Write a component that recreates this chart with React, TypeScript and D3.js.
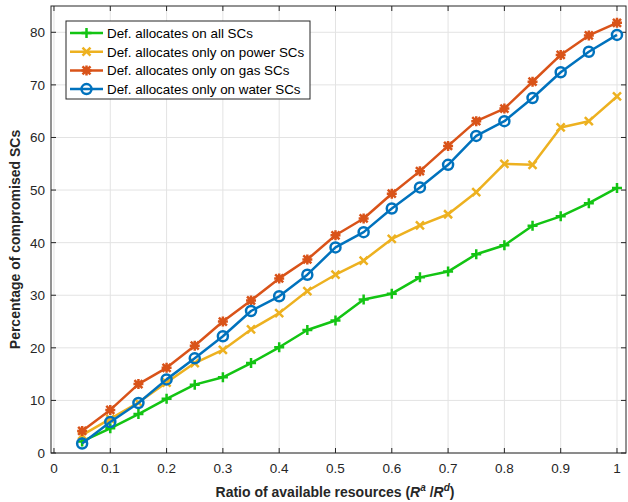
import React from 'react';
import * as d3 from 'd3';

const xValues = [0.05, 0.1, 0.15, 0.2, 0.25, 0.3, 0.35, 0.4, 0.45, 0.5, 0.55, 0.6, 0.65, 0.7, 0.75, 0.8, 0.85, 0.9, 0.95, 1];
const allSCs = [2.2, 4.7, 7.4, 10.3, 13.0, 14.4, 17.1, 20.1, 23.4, 25.2, 29.2, 30.3, 33.4, 34.5, 37.8, 39.5, 43.2, 45.0, 47.5, 50.4];
const powerSCs = [3.4, 6.5, 9.6, 13.4, 17.1, 19.6, 23.5, 26.6, 30.8, 33.9, 36.6, 40.7, 43.3, 45.4, 49.6, 55.0, 54.8, 61.9, 63.1, 67.8];
const gasSCs = [4.2, 8.2, 13.1, 16.2, 20.4, 25.0, 29.0, 33.2, 36.8, 41.4, 44.6, 49.3, 53.6, 58.4, 63.1, 65.5, 70.6, 75.7, 79.4, 81.8];
const waterSCs = [1.8, 5.9, 9.5, 14.0, 18.0, 22.2, 27.0, 29.8, 33.9, 39.1, 42.0, 46.5, 50.5, 54.8, 60.3, 63.1, 67.5, 72.4, 76.3, 79.5];

const xTicks = [0, 0.1, 0.2, 0.3, 0.4, 0.5, 0.6, 0.7, 0.8, 0.9, 1];
const yTicks = [0, 10, 20, 30, 40, 50, 60, 70, 80];

const seriesNames = [
  'Def. allocates on all SCs',
  'Def. allocates only on power SCs',
  'Def. allocates only on gas SCs',
  'Def. allocates only on water SCs',
];

type Marker = 'plus' | 'cross' | 'star' | 'circle';

const series: { name: string; values: number[]; color: string; marker: Marker }[] = [
  { name: seriesNames[0], values: allSCs, color: '#13c413', marker: 'plus' },
  { name: seriesNames[1], values: powerSCs, color: '#EDB120', marker: 'cross' },
  { name: seriesNames[2], values: gasSCs, color: '#D95319', marker: 'star' },
  { name: seriesNames[3], values: waterSCs, color: '#0072BD', marker: 'circle' },
];

const W = 628;
const H = 502;
const left = 51, right = 626, top = 6, bottom = 453;

const font = '"Liberation Sans", Arial, sans-serif';
const axisColor = '#262626';

function MarkerShape({ kind, x, y, color }: { kind: Marker; x: number; y: number; color: string }) {
  const s = 5;
  const d = 4;
  if (kind === 'plus') {
    return <path d={`M${x - s},${y}H${x + s}M${x},${y - s}V${y + s}`} stroke={color} strokeWidth={2.5} />;
  }
  if (kind === 'cross') {
    return <path d={`M${x - d},${y - d}L${x + d},${y + d}M${x - d},${y + d}L${x + d},${y - d}`} stroke={color} strokeWidth={2.5} />;
  }
  if (kind === 'star') {
    return (
      <g>
        <circle cx={x} cy={y} r={3} fill={color} />
        <path
          d={`M${x - s},${y}H${x + s}M${x},${y - s}V${y + s}M${x - d},${y - d}L${x + d},${y + d}M${x - d},${y + d}L${x + d},${y - d}`}
          stroke={color}
          strokeWidth={2.5}
        />
      </g>
    );
  }
  return <circle cx={x} cy={y} r={5} fill="none" stroke={color} strokeWidth={2.5} />;
}

export default function App() {
  const x = d3.scaleLinear().domain([-0.0053, 1.016]).range([left, right]);
  const y = d3.scaleLinear().domain([0, 85]).range([bottom, top]);
  const line = d3
    .line<number>()
    .x((_, i) => x(xValues[i]))
    .y((v) => y(v));

  const legX = 66, legY = 21, legW = 244, legH = 78;

  return (
    <svg width={W} height={H} style={{ position: 'absolute', left: 0, top: 0, background: '#fff' }}>
      <rect x={0} y={0} width={W} height={H} fill="#fff" />
      {/* grid */}
      {xTicks.map((t) => (
        <line key={'gx' + t} x1={x(t)} x2={x(t)} y1={top} y2={bottom} stroke="#e3e3e3" strokeWidth={1} />
      ))}
      {yTicks.map((t) => (
        <line key={'gy' + t} x1={left} x2={right} y1={y(t)} y2={y(t)} stroke="#e3e3e3" strokeWidth={1} />
      ))}
      {/* box + ticks */}
      <rect x={left} y={top} width={right - left} height={bottom - top} fill="none" stroke={axisColor} strokeWidth={1} />
      {xTicks.map((t) => (
        <g key={'tx' + t} stroke={axisColor}>
          <line x1={x(t)} x2={x(t)} y1={bottom} y2={bottom - 5} />
          <line x1={x(t)} x2={x(t)} y1={top} y2={top + 5} />
        </g>
      ))}
      {yTicks.map((t) => (
        <g key={'ty' + t} stroke={axisColor}>
          <line x1={left} x2={left + 5} y1={y(t)} y2={y(t)} />
          <line x1={right} x2={right - 5} y1={y(t)} y2={y(t)} />
        </g>
      ))}
      {/* tick labels */}
      {xTicks.map((t) => (
        <text key={'lx' + t} x={x(t)} y={bottom + 20} textAnchor="middle" fontFamily={font} fontSize={13.5} fill={axisColor}>
          {String(t)}
        </text>
      ))}
      {yTicks.map((t) => (
        <text key={'ly' + t} x={left - 6} y={y(t) + 5} textAnchor="end" fontFamily={font} fontSize={13.5} fill={axisColor}>
          {String(t)}
        </text>
      ))}
      {/* axis titles */}
      <text x={335} y={497} textAnchor="middle" fontFamily={font} fontSize={14} fontWeight="bold" fill={axisColor}>
        Ratio of available resources (
        <tspan fontStyle="italic">R</tspan>
        <tspan fontSize={10} dy={-6} fontStyle="italic">a</tspan>
        <tspan dy={6}> /</tspan>
        <tspan fontStyle="italic">R</tspan>
        <tspan fontSize={10} dy={-6} fontStyle="italic">d</tspan>
        <tspan dy={6}>)</tspan>
      </text>
      <text
        transform={`translate(20,${(top + bottom) / 2 + 10}) rotate(-90)`}
        textAnchor="middle"
        fontFamily={font}
        fontSize={14}
        fontWeight="bold"
        fill={axisColor}
      >
        Percentage of compromised SCs
      </text>
      {/* series */}
      {series.map((s) => (
        <g key={s.name}>
          <path d={line(s.values) || ''} fill="none" stroke={s.color} strokeWidth={2.5} strokeLinejoin="round" />
          {s.values.map((v, i) => (
            <MarkerShape key={i} kind={s.marker} x={x(xValues[i])} y={y(v)} color={s.color} />
          ))}
        </g>
      ))}
      {/* legend */}
      <rect x={legX} y={legY} width={legW} height={legH} fill="#fff" stroke={axisColor} strokeWidth={1} />
      {series.map((s, i) => {
        const ly = legY + 12 + i * 18.7;
        return (
          <g key={'leg' + i}>
            <line x1={legX + 4} x2={legX + 37} y1={ly} y2={ly} stroke={s.color} strokeWidth={2.5} />
            <MarkerShape kind={s.marker} x={legX + 20.5} y={ly} color={s.color} />
            <text x={legX + 41} y={ly + 5} fontFamily={font} fontSize={13.4} fill="#000">
              {s.name}
            </text>
          </g>
        );
      })}
    </svg>
  );
}
